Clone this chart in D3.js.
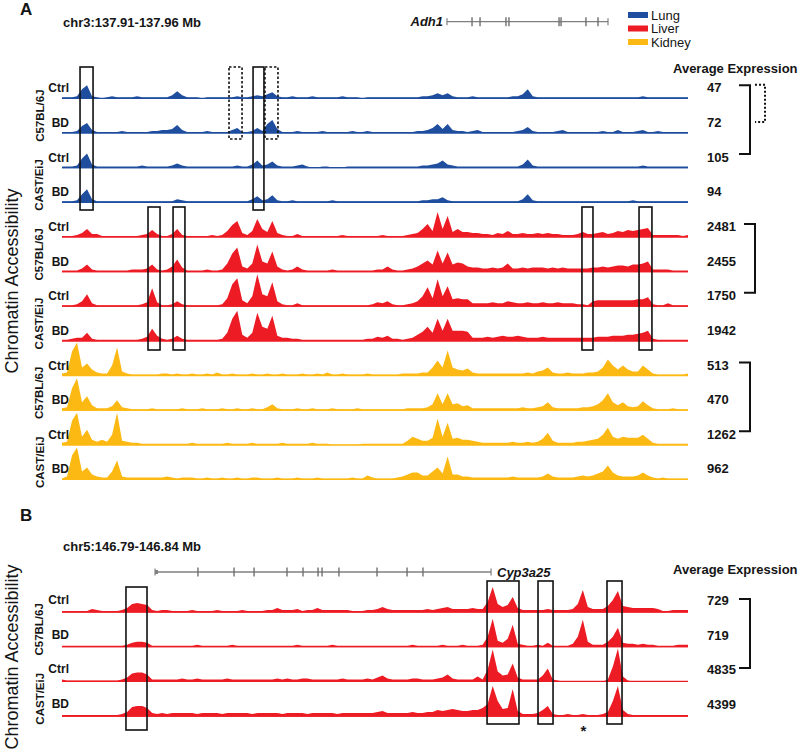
<!DOCTYPE html>
<html><head><meta charset="utf-8">
<script src="https://cdn.jsdelivr.net/npm/d3@7"></script>
<style>body{margin:0;background:#fff} text{font-family:"Liberation Sans",Arial,sans-serif;fill:#151515}</style>
</head><body><svg id="chart" width="800" height="756"></svg>
<script>
// ---------- DATA ----------
const tissues = ["Lung", "Liver", "Kidney"];
const tissueColors = ["#1f4e9f", "#ed1c24", "#fdb913"];
const strains = ["C57BL/6J", "CAST/EiJ"];
const conditions = ["Ctrl", "BD"];
const regionA = "chr3:137.91-137.96 Mb";
const regionB = "chr5:146.79-146.84 Mb";

// signal per 0.4 kb bin (126 bins across 50 kb)
const lungC57Ctrl = [1,1,1,2,9,13,2,1,0,1,2,1,1,1,1,2,1,1,1,1,1, 1,3,7,3,1,1,1,0,1,1,1,1,1,1,2,1,1,2,3,2,4, 6,2,1,1,2,1,1,1,2,1,1,1,1,1,2,1,1,1,0,1,1, 1,1,1,1,1,1,1,1,1,2,2,3,5,3,5,2,1,1,1,2,1, 1,1,1,1,1,1,2,2,4,9,2,1,1,1,1,1,1,1,1,1,1, 1,1,1,1,1,1,1,1,1,1,1,2,1,1,1,1,1,1,1,1,1];
const lungC57BD = [1,1,1,2,7,10,3,1,1,1,1,1,2,1,1,1,1,1,2,2,3, 3,4,8,3,1,1,1,1,2,1,1,1,1,3,5,1,1,2,5,2,9, 13,4,1,1,1,2,1,1,1,1,2,1,1,1,1,1,2,1,1,2,1, 1,1,1,1,1,1,1,1,2,2,3,5,9,4,9,3,2,2,1,2,3, 1,1,1,1,1,1,1,2,3,6,2,1,1,1,1,2,3,1,1,1,1, 1,1,1,2,1,1,3,1,1,1,2,3,1,1,2,1,1,1,1,1,1];
const lungCASTCtrl = [1,1,1,2,9,14,3,1,1,1,1,1,1,1,1,1,2,1,1,1,1, 1,2,4,2,1,1,1,1,1,1,1,1,1,1,2,1,1,3,7,2,3, 6,2,1,1,1,2,3,1,0,0,1,1,0,0,0,1,1,1,1,1,1, 1,1,1,1,1,1,1,1,1,2,2,3,4,7,3,2,1,1,1,1,1, 1,1,1,1,1,1,1,1,3,8,2,1,1,1,1,1,1,1,1,1,1, 1,1,1,1,1,1,1,1,1,1,1,2,1,1,1,1,1,1,1,1,1];
const lungCASTBD = [1,1,1,2,8,13,3,1,1,1,1,1,1,1,1,1,1,1,1,1,1, 1,1,3,2,1,1,1,1,1,1,1,1,1,1,1,1,1,3,6,2,3, 7,2,1,1,2,1,1,1,1,1,1,1,2,1,1,1,1,1,1,1,1, 1,1,1,1,1,1,1,1,1,2,2,3,3,5,2,1,1,1,1,1,1, 1,1,1,1,1,1,1,1,3,8,2,1,1,1,1,1,1,1,1,1,1, 1,1,1,1,1,1,1,1,1,2,1,1,1,1,1,1,1,1,1,1,1];

const liverC57Ctrl = [1,1,1,2,4,8,3,3,1,1,1,1,1,1,1,1,2,3,7,3,1, 1,3,8,2,1,1,1,1,1,2,1,2,6,12,16,4,2,6,18,8,5, 16,4,2,1,1,3,1,1,1,1,1,1,1,1,2,1,1,1,1,1,1, 1,2,1,1,1,1,2,3,4,8,13,6,25,8,21,5,8,5,5,4,4, 3,3,2,4,3,6,3,3,4,3,3,4,3,4,3,3,2,2,2,3,5, 3,3,4,5,3,4,6,5,7,6,7,8,9,2,2,2,2,2,2,1,2];
const liverC57BD = [1,1,1,1,3,7,2,1,1,1,1,1,1,1,2,2,2,3,7,2,1, 2,5,12,4,1,1,1,1,2,1,1,2,8,18,24,5,3,8,27,10,8, 20,5,2,1,2,5,2,1,1,1,1,1,2,1,1,1,1,1,1,1,1, 2,2,5,2,1,1,2,3,5,8,11,7,21,8,19,7,9,8,5,4,4, 3,3,4,3,4,8,3,3,4,3,4,4,4,3,4,3,4,3,3,3,3, 3,4,4,5,4,5,6,6,5,7,7,8,10,2,2,2,2,1,1,1,1];
const liverCASTCtrl = [1,1,1,2,5,12,3,1,1,1,1,1,1,1,1,1,2,4,18,4,1, 1,2,5,2,1,1,1,1,1,1,1,2,8,22,28,6,3,10,32,12,10, 24,5,2,1,1,3,1,1,1,1,1,1,1,1,1,1,1,1,1,1,2, 4,3,5,2,1,1,2,3,5,10,19,8,27,10,20,7,8,7,7,3,3, 3,3,4,3,3,5,4,3,3,4,3,3,4,3,3,4,3,3,3,2,2, 1,5,6,6,6,6,6,6,6,6,7,7,9,2,1,1,3,1,1,1,1];
const liverCASTBD = [1,1,2,3,3,8,2,1,1,1,1,1,1,1,1,1,2,4,12,5,2, 1,2,5,2,1,1,1,1,1,1,1,2,8,22,30,6,3,8,28,14,12, 25,5,3,3,2,2,1,1,1,1,1,1,1,1,1,1,1,1,1,2,2, 4,3,5,2,2,1,2,3,6,9,14,8,22,10,22,10,10,10,9,3,3, 3,4,3,4,5,4,4,5,4,3,3,3,4,3,3,3,3,3,3,3,3, 3,3,4,4,4,5,5,5,6,6,7,8,10,2,1,1,1,1,1,1,1];

const kidneyC57Ctrl = [2,3,24,33,8,12,6,3,2,2,10,28,4,2,1,1,1,1,1,1,2, 2,1,2,1,1,2,1,1,2,1,3,1,1,2,1,1,1,2,1,1,2, 1,1,2,1,1,1,2,1,1,2,1,3,1,1,2,1,1,1,1,2,1, 1,1,1,1,1,2,2,2,2,3,3,8,15,8,25,8,6,5,7,3,2, 2,2,2,2,2,2,2,2,2,3,2,4,5,8,3,2,2,3,2,2,2, 3,3,4,8,16,10,6,10,6,4,4,10,6,2,1,1,1,1,1,1,2];
const kidneyC57BD = [2,3,22,32,8,14,5,2,2,2,4,10,3,2,1,1,1,1,2,1,1, 1,1,1,2,1,1,1,2,1,1,1,2,1,1,2,1,1,2,1,1,3, 6,2,1,1,1,2,1,1,2,1,1,1,2,1,1,1,1,2,1,1,1, 1,1,1,1,1,1,2,2,2,2,3,6,17,6,17,6,7,4,5,2,2, 2,2,2,2,2,2,2,2,3,2,2,3,4,8,3,2,2,2,2,2,3, 3,4,6,10,17,8,5,8,4,3,4,9,5,2,1,1,1,2,1,1,1];
const kidneyCASTCtrl = [2,3,24,32,8,15,5,3,5,3,10,32,4,3,2,2,1,1,1,1,1, 1,1,1,1,1,2,1,1,1,1,1,1,2,1,1,1,1,2,1,1,1, 1,1,2,1,1,1,1,1,2,1,1,1,0,0,0,0,0,0,1,1,1, 1,1,1,1,1,1,4,8,6,4,4,7,26,8,22,6,7,5,5,4,3, 2,2,2,2,2,2,3,2,2,3,2,3,6,12,4,2,2,2,2,3,3, 4,5,6,10,17,8,6,8,7,7,7,10,6,2,1,1,1,1,1,1,1];
const kidneyCASTBD = [1,3,24,32,8,12,5,3,2,2,8,19,3,2,2,2,2,2,2,2,2, 3,2,1,2,2,2,1,1,2,1,1,2,1,1,2,1,1,2,2,1,1, 1,2,1,1,1,2,1,1,1,2,1,1,1,1,1,1,2,1,1,4,2, 1,1,1,1,2,3,5,7,7,4,4,8,12,6,23,5,5,3,3,2,2, 2,2,2,2,2,2,3,2,2,2,2,2,3,6,3,2,2,2,2,3,4, 3,4,6,8,14,7,4,3,3,3,4,7,4,2,1,2,1,1,1,1,1];

const cypC57Ctrl = [1,1,1,1,1,1,3,2,1,1,1,1,2,4,8,9,8,7,2,1,2, 2,1,1,1,1,2,1,1,1,1,2,1,1,1,1,2,1,1,1,1,2, 2,4,2,2,2,3,1,2,2,4,2,2,2,2,2,2,1,1,1,2,2, 3,5,3,2,2,2,2,2,2,2,3,2,3,4,5,3,3,3,3,4,3, 3,10,25,8,5,7,15,4,2,2,2,2,2,3,2,2,2,2,3,8,22, 5,3,3,3,6,12,21,6,5,4,4,4,4,4,3,1,1,2,2,2,2];
const cypC57BD = [1,1,1,1,1,1,1,1,1,1,1,1,1,2,4,5,5,4,1,1,1, 1,1,1,1,1,1,2,1,1,1,1,1,1,2,1,1,1,1,1,1,1, 1,1,1,1,1,2,1,1,1,1,1,1,2,1,1,1,1,1,1,1,1, 1,1,1,1,1,1,1,2,1,1,1,1,1,2,1,1,1,2,1,1,1, 2,10,28,6,4,8,22,3,2,1,1,2,1,4,1,1,1,1,3,10,27, 5,2,2,2,5,10,19,4,3,3,2,3,2,2,1,1,1,1,2,2,2];
const cypCASTCtrl = [2,1,1,1,1,1,1,1,1,1,1,1,2,4,8,9,9,7,2,2,2, 2,2,2,3,2,2,3,2,2,2,2,2,3,2,2,2,2,2,2,2,2, 2,3,2,3,2,2,3,3,2,2,2,2,2,2,3,2,2,2,2,3,2, 4,6,3,2,2,2,2,3,3,2,2,2,3,4,7,3,2,2,2,2,5, 2,12,32,10,6,7,18,4,2,2,2,2,6,13,2,1,0,0,0,0,0, 0,0,0,0,2,15,33,5,1,0,0,0,0,0,0,0,0,0,0,0,0];
const cypCASTBD = [1,1,1,1,1,1,1,1,1,1,1,1,2,4,9,10,10,8,3,2,3, 2,3,3,3,3,3,2,3,3,3,3,2,3,3,3,3,3,2,3,3,3, 3,3,2,3,3,3,3,2,3,3,3,3,3,2,3,3,3,3,3,3,3, 4,5,3,3,3,3,3,4,3,3,4,4,6,5,6,7,6,5,5,6,6, 8,12,30,15,7,8,27,5,2,2,2,3,6,10,2,1,1,2,1,1,2, 1,1,1,2,4,15,30,6,2,1,1,1,1,1,1,1,1,1,1,1,1];

// average expression
const lungExpr = [47, 72, 105, 94];
const liverExpr = [2481, 2455, 1750, 1942];
const kidneyExpr = [513, 470, 1262, 962];
const cypExpr = [729, 719, 4835, 4399];

// genes (kb from window start)
const adh1Name = "Adh1";
const adh1Span = [30.75, 43.61];
const adh1Exons = [32.75, 33.39, 35.46, 35.70, 39.70, 39.86, 41.85, 42.81];
const cypName = "Cyp3a25";
const cypSpan = [7.43, 34.27];
const cypExons = [10.86, 13.74, 15.34, 17.97, 19.25, 20.45, 20.77, 22.12, 25.16, 27.56, 28.83];

// highlighted regions (kb)
const lungBoxes = [[1.44, 2.48], [15.26, 16.13]];
const lungDotBoxes = [[13.34, 14.38], [16.21, 17.25]];
const liverBoxes = [[6.87, 7.83], [8.87, 9.82], [41.53, 42.41], [46.09, 47.12]];
const cypBoxLeft = [[5.11, 6.79]];
const cypBoxes = [[33.95, 36.5], [38.02, 39.22], [43.53, 44.73]];
const cypStar = 41.65;

// ---------- DRAW ----------
const svg = d3.select("#chart");
const x = d3.scaleLinear().domain([0, 50]).range([62, 688]);
const binKb = d3.range(126).map(i => i * 0.4);

function drawTrack(values, base, color) {
  const y = d3.scaleLinear().domain([0, 34]).range([base, base - 34]);
  const area = d3.area().x((d, i) => x(binKb[i])).y0(base + 0.6).y1(d => y(d));
  svg.append("path").datum(values).attr("d", area).attr("fill", color);
  svg.append("line").attr("x1", x(0)).attr("x2", x(50)).attr("y1", base).attr("y2", base)
    .attr("stroke", color).attr("stroke-width", 1.3);
}

function label(t, px, py, opts = {}) {
  const el = svg.append("text").attr("x", px).attr("y", py).text(t)
    .attr("font-size", opts.size || 12).attr("font-weight", opts.weight || "bold")
    .attr("text-anchor", opts.anchor || "start");
  if (opts.italic) el.attr("font-style", "italic");
  if (opts.rotate) el.attr("transform", `rotate(-90,${px},${py})`);
  return el;
}

function bracket(x1, x2, yTop, yBot, dashed) {
  svg.append("path").attr("d", `M${x1},${yTop}H${x2}V${yBot}H${x1}`)
    .attr("fill", "none").attr("stroke", "#111").attr("stroke-width", 2)
    .attr("stroke-dasharray", dashed ? "2,2" : null);
}

function boxes(list, yTop, yBot, dashed) {
  list.forEach(([a, b]) => {
    svg.append("rect").attr("x", x(a)).attr("y", yTop).attr("width", x(b) - x(a)).attr("height", yBot - yTop)
      .attr("fill", "none").attr("stroke", "#111").attr("stroke-width", 1.6)
      .attr("stroke-dasharray", dashed ? "2.5,2" : null);
  });
}

function gene(span, exons, gy, startBox) {
  svg.append("line").attr("x1", x(span[0])).attr("x2", x(span[1])).attr("y1", gy).attr("y2", gy)
    .attr("stroke", "#808080").attr("stroke-width", 1.3);
  [span[0], span[1]].forEach(p => svg.append("line").attr("x1", x(p)).attr("x2", x(p))
    .attr("y1", gy - 3.5).attr("y2", gy + 3.5).attr("stroke", "#808080").attr("stroke-width", 1.2));
  exons.forEach(p => svg.append("line").attr("x1", x(p)).attr("x2", x(p))
    .attr("y1", gy - 4.5).attr("y2", gy + 4.5).attr("stroke", "#707070").attr("stroke-width", 1.4));
  if (startBox) svg.append("rect").attr("x", x(span[0])).attr("y", gy - 2).attr("width", 3).attr("height", 4).attr("fill", "#808080");
}

// ---- Panel A ----
label("A", 20, 15, {size: 17});
label(regionA, 63, 27, {size: 13});
gene(adh1Span, adh1Exons, 21.7, false);
label(adh1Name, 443, 26, {size: 13, italic: true, anchor: "end"});

// legend
tissues.forEach((t, i) => {
  svg.append("rect").attr("x", 628).attr("y", 12 + i * 13.5).attr("width", 20).attr("height", 6).attr("fill", tissueColors[i]);
  label(t, 651, 19.5 + i * 13.5, {size: 13, weight: "normal"});
});
label("Average Expression", 673, 73, {size: 13});

const aTracks = [
  [lungC57Ctrl, lungC57BD, lungCASTCtrl, lungCASTBD],
  [liverC57Ctrl, liverC57BD, liverCASTCtrl, liverCASTBD],
  [kidneyC57Ctrl, kidneyC57BD, kidneyCASTCtrl, kidneyCASTBD]
];
const aExpr = [lungExpr, liverExpr, kidneyExpr];
const aBracketX = [[739, 750], [744, 755], [739, 750]];
const aBase = d3.range(12).map(k => 98.3 + 34.65 * k);

aTracks.forEach((group, g) => {
  group.forEach((vals, j) => {
    const b = aBase[g * 4 + j];
    drawTrack(vals, b, tissueColors[g]);
    label(conditions[j % 2], 69, b - 6, {size: 12, anchor: "end"});
    label(String(aExpr[g][j]), 707, b - 6, {size: 13});
  });
  strains.forEach((s, si) => {
    const mid = (aBase[g * 4 + si * 2] + aBase[g * 4 + si * 2 + 1]) / 2;
    label(s, 43.5, mid, {size: 11.5, anchor: "middle", rotate: true});
  });
  bracket(aBracketX[g][0], aBracketX[g][1], aBase[g * 4] - 13, aBase[g * 4 + 2] - 13.5, false);
});
bracket(755, 765, aBase[0] - 13.5, aBase[1] - 11, true);

boxes(lungBoxes, 67, 210, false);
boxes(lungDotBoxes, 67, 139, true);
boxes(liverBoxes, 207, 350, false);

label("Chromatin Accessibility", 18, 281, {size: 18, weight: "normal", anchor: "middle", rotate: true});

// ---- Panel B ----
label("B", 20, 521, {size: 17});
label(regionB, 63, 551, {size: 13});
gene(cypSpan, cypExons, 572, true);
label(cypName, 497, 577, {size: 13, italic: true});
label("Average Expression", 673, 574, {size: 13});

const bTracks = [cypC57Ctrl, cypC57BD, cypCASTCtrl, cypCASTBD];
const bBase = d3.range(4).map(k => 612 + 34.7 * k);
bTracks.forEach((vals, j) => {
  const b = bBase[j];
  drawTrack(vals, b, tissueColors[1]);
  label(conditions[j % 2], 69, b - 8, {size: 12, anchor: "end"});
  label(String(cypExpr[j]), 707, b - 7, {size: 13});
});
strains.forEach((s, si) => {
  const mid = (bBase[si * 2] + bBase[si * 2 + 1]) / 2;
  label(s, 43.5, mid, {size: 11.5, anchor: "middle", rotate: true});
});
bracket(739, 750, bBase[0] - 13, bBase[2] - 13.5, false);
boxes(cypBoxLeft, 587, 730, false);
boxes(cypBoxes, 581, 724, false);
label("*", x(cypStar), 736, {size: 15, anchor: "middle"});
label("Chromatin Accessibility", 18, 657, {size: 18, weight: "normal", anchor: "middle", rotate: true});
</script>
</body></html>
